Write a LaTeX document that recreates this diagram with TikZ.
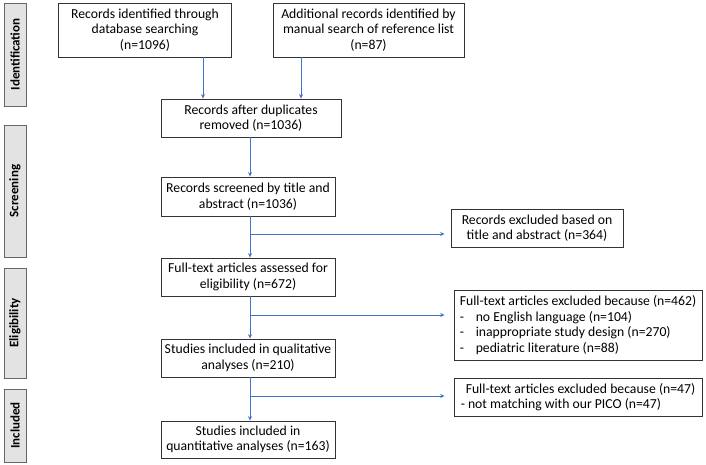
\documentclass[tikz,border=0pt]{standalone}
\usepackage{fontspec}
\setmainfont{Carlito}
\usetikzlibrary{arrows.meta}
\definecolor{arrowblue}{HTML}{4472C4}
\begin{document}
\begin{tikzpicture}[x=1pt,y=-1pt,
  box/.style={draw=black!80,line width=0.8pt,rectangle,inner sep=0pt,align=center,font=\fontsize{13.7}{15.5}\selectfont},
  side/.style={draw=gray!80!black,fill=gray!22,line width=0.8pt,rectangle,inner sep=0pt,minimum width=22,font=\bfseries\fontsize{13}{14}\selectfont},
  arr/.style={draw=arrowblue,line width=1pt,-{Stealth[length=4.5pt,width=4pt]}}]
\useasboundingbox (0,0) rectangle (706,465);
% side labels
\node[side,minimum height=103] (s1) at (15,54.5) {\rotatebox{90}{Identification}};
\node[side,minimum height=132] (s2) at (15,191) {\rotatebox{90}{Screening}};
\node[side,minimum height=110] (s3) at (15,323) {\rotatebox{90}{Eligibility}};
\node[side,minimum height=73] (s4) at (15,425.5) {\rotatebox{90}{Included}};
% boxes
\node[box,minimum width=173,minimum height=54] (a) at (145,30) {Records identified through\\database searching\\(n=1096)};
\node[box,minimum width=191,minimum height=54] (b) at (368.5,30) {Additional records identified by\\manual search of reference list\\(n=87)};
\node[box,minimum width=180,minimum height=38] (m) at (251,118) {Records after duplicates\\removed (n=1036)};
\node[box,minimum width=174,minimum height=39] (sc) at (248,196.5) {Records screened by title  and\\abstract (n=1036)};
\node[box,minimum width=174,minimum height=38] (ft) at (248,277) {Full-text articles assessed for\\eligibility  (n=672)};
\node[box,minimum width=174,minimum height=38] (ql) at (248,358) {Studies included in qualitative\\analyses (n=210)};
\node[box,minimum width=174,minimum height=37] (qn) at (248,439.5) {Studies included in\\quantitative analyses (n=163)};
\node[box,minimum width=172,minimum height=38] (e1) at (537,228) {Records excluded based on\\title  and abstract (n=364)};
\node[box,minimum width=248,minimum height=70,align=left] (e2) at (578,325) {Full-text articles excluded because (n=462)\\
\makebox[16pt][l]{-}no English language (n=104)\\
\makebox[16pt][l]{-}inappropriate study design (n=270)\\
\makebox[16pt][l]{-}pediatric literature (n=88)};
\node[box,minimum width=248,minimum height=38,align=left] (e3) at (578,397) {\hspace{5pt}Full-text articles excluded because (n=47)\\- not matching with our PICO (n=47)};
% connectors
\coordinate (ta) at (a.south -| 203,0);
\coordinate (tb) at (b.south -| 301,0);
\draw[arr] (ta) -- (ta |- m.north);
\draw[arr] (tb) -- (tb |- m.north);
\coordinate (mv) at (m.south -| 250,0);
\draw[arr] (mv) -- (mv |- sc.north);
\coordinate (sv) at (sc.south -| 250,0);
\draw[arr] (sv) -- (sv |- ft.north);
\coordinate (b1) at (250,234);
\draw[arr,shorten >=6pt] (b1) -- (b1 -| e1.west);
\coordinate (fv) at (ft.south -| 250,0);
\draw[arr] (fv) -- (fv |- ql.north);
\coordinate (b2) at (250,315);
\draw[arr,shorten >=9pt] (b2) -- (b2 -| e2.west);
\coordinate (qv) at (ql.south -| 250,0);
\draw[arr] (qv) -- (qv |- qn.north);
\coordinate (b3) at (250,396);
\draw[arr,shorten >=9pt] (b3) -- (b3 -| e3.west);
\end{tikzpicture}
\end{document}
